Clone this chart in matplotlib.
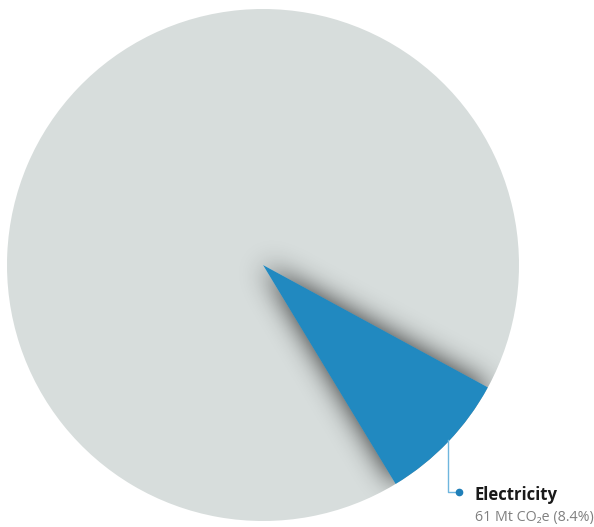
"""Pie chart: electricity share of emissions, with a soft shadow under the highlighted slice."""
import numpy as np
import matplotlib
matplotlib.use("Agg")
import matplotlib.pyplot as plt
from matplotlib.patches import Circle

# ── data ──
SECTORS = ["Electricity", "Other"]
SHARES = [8.4, 91.6]          # % of total
ELEC_MT = 61                  # Mt CO2e
COLORS = ["#2189c0", "#d7dddc"]

plt.rcParams["font.family"] = ["Open Sans", "DejaVu Sans"]


def gauss_blur(img, sigma):
    """separable gaussian blur (sigma in pixels)."""
    half = int(3 * sigma)
    k = np.exp(-0.5 * (np.arange(-half, half + 1) / sigma) ** 2)
    k /= k.sum()
    out = np.apply_along_axis(lambda v: np.convolve(v, k, mode="same"), 0, img)
    return np.apply_along_axis(lambda v: np.convolve(v, k, mode="same"), 1, out)


fig = plt.figure(figsize=(5.94, 5.27), dpi=100)
ax = fig.add_axes([7 / 594, 6 / 527, 512 / 594, 512 / 527])

wedges, _ = ax.pie(SHARES, colors=COLORS, startangle=-58.8, counterclock=True,
                   radius=1, center=(0, 0), frame=True,
                   wedgeprops=dict(linewidth=0))
ax.set_xlim(-1, 1)
ax.set_ylim(-1, 1)
ax.set_aspect("equal")
ax.axis("off")
elec, rest = wedges
rest.set_zorder(1)
elec.set_zorder(3)

# ── blurred shadow of the electricity slice, clipped to the pie ──
n = 700
g = np.linspace(-1, 1, n)
X, Y = np.meshgrid(g, g)
R = np.hypot(X, Y)
ang = np.degrees(np.arctan2(Y, X))
t1, t2 = elec.theta1, elec.theta2
rel = (ang - t1) % 360
mask = ((rel <= (t2 - t1)) & (R <= 1)).astype(float)
shadow = gauss_blur(mask, sigma=n * 0.026)
rgba = np.zeros((n, n, 4))
rgba[..., 3] = np.clip(shadow * 0.8, 0, 0.6)
im = ax.imshow(rgba, extent=(-1, 1, -1, 1), origin="lower", zorder=2,
               interpolation="bilinear")
im.set_clip_path(Circle((0, 0), 1, transform=ax.transData))

# ── leader line + label ──
mid = np.radians((t1 + t2) / 2)
x0, y0 = np.cos(mid), np.sin(mid) * 0.99
y_lab = -0.887
x_dot = 0.766
ax.plot([x0, x0, x_dot], [y0, y_lab, y_lab], color="#6fb6de", lw=1.0,
        zorder=4, clip_on=False)
ax.plot([x_dot], [y_lab], "o", color="#1f7fb8", ms=4.5, zorder=5, clip_on=False)
ax.text(0.828, y_lab - 0.01, SECTORS[0], fontsize=12, fontweight="bold",
        color="#1a1a1a", ha="left", va="center", clip_on=False)
ax.text(0.828, -0.985, f"{ELEC_MT} Mt CO\u2082e ({SHARES[0]}%)", fontsize=10.3,
        color="#808080", ha="left", va="center", clip_on=False)

fig.savefig("out.png", dpi=100)
